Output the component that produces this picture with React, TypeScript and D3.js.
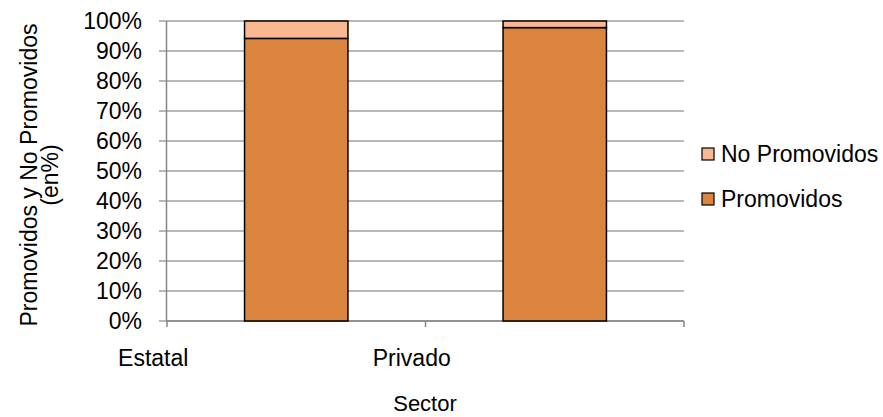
import React from "react";
import * as d3 from "d3";

const categories = ["Estatal", "Privado"];
const promovidos = [94.2, 97.8];
const noPromovidos = [5.8, 2.2];
const seriesNames = ["Promovidos", "No Promovidos"];
const seriesColors = ["#DB843E", "#F9B891"];
const yTicks = [0, 10, 20, 30, 40, 50, 60, 70, 80, 90, 100];

const W = 883;
const H = 417;
const FONT = "'Liberation Sans', Arial, sans-serif";

export default function App() {
  const x = d3.scaleBand<string>().domain(categories).range([167, 684]).paddingInner(0.6).paddingOuter(0.3);
  const y = d3.scaleLinear().domain([0, 100]).range([321, 21]);
  const rows = categories.map((c, i) => ({ cat: c, Promovidos: promovidos[i], "No Promovidos": noPromovidos[i] }));
  const stacked = d3.stack<any>().keys(seriesNames)(rows);
  const step = x.step();
  const bounds = [167, 167 + step, 167 + 2 * step];

  return (
    <div style={{ position: "absolute", left: 0, top: 0 }}>
      <svg width={W} height={H} style={{ display: "block", background: "#fff" }} fontFamily={FONT}>
        {yTicks.map((t) => (
          <g key={t}>
            <line x1={159} x2={684} y1={y(t)} y2={y(t)} stroke="#A0A0A0" strokeWidth={1.5} />
            <text x={142} y={y(t)} dy="0.35em" textAnchor="end" fontSize={23} fill="#000">
              {t}%
            </text>
          </g>
        ))}
        <line x1={166.5} x2={166.5} y1={y(100)} y2={y(0)} stroke="#868686" strokeWidth={1.5} />
        <line x1={166.5} x2={684} y1={y(0)} y2={y(0)} stroke="#868686" strokeWidth={1.5} />
        {bounds.map((b, i) => (
          <line key={i} x1={b} x2={b} y1={y(0)} y2={y(0) + 6} stroke="#868686" strokeWidth={1.5} />
        ))}
        {stacked.map((s, si) => (
          <g key={s.key}>
            {s.map((d, i) => (
              <rect
                key={i}
                x={x(categories[i])}
                width={x.bandwidth()}
                y={y(d[1])}
                height={y(d[0]) - y(d[1])}
                fill={seriesColors[si]}
                stroke="#000"
                strokeWidth={1.5}
              />
            ))}
          </g>
        ))}
        {categories.map((c) => (
          <text key={c} x={(x(c) as number) + x.bandwidth() / 2 - 143} y={366} textAnchor="middle" fontSize={23} fill="#000">
            {c}
          </text>
        ))}
        <text x={425} y={411} textAnchor="middle" fontSize={22} fill="#000">
          Sector
        </text>
        <g transform="translate(37,175) rotate(-90)">
          <text x={0} y={0} textAnchor="middle" fontSize={23} fill="#000">
            Promovidos y No Promovidos
          </text>
          <text x={0} y={21} textAnchor="middle" fontSize={23} fill="#000">
            (en%)
          </text>
        </g>
        {[1, 0].map((si, k) => (
          <g key={si} transform={`translate(702, ${154 + k * 45})`}>
            <rect x={0} y={-6} width={12} height={12} fill={seriesColors[si]} stroke="#000" strokeWidth={1.2} />
            <text x={19} y={0} dy="0.35em" fontSize={23} fill="#000">
              {seriesNames[si]}
            </text>
          </g>
        ))}
      </svg>
    </div>
  );
}
